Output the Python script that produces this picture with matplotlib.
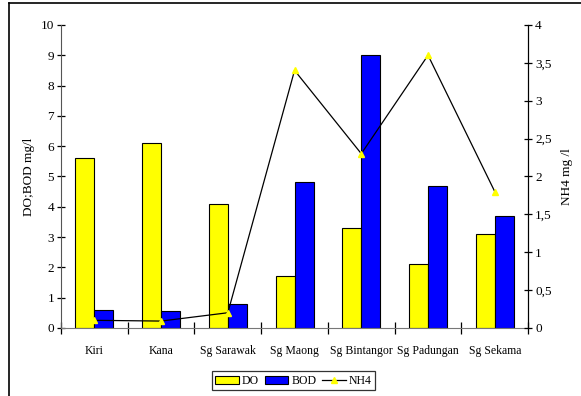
import matplotlib
matplotlib.use("Agg")
import matplotlib.pyplot as plt
import numpy as np
from matplotlib.lines import Line2D
from matplotlib.patches import Patch

plt.rcParams['font.family'] = ['Liberation Serif', 'DejaVu Serif']

sites = ["Kiri", "Kana", "Sg Sarawak", "Sg Maong", "Sg Bintangor", "Sg Padungan", "Sg Sekama"]
do_vals = [5.6, 6.1, 4.1, 1.7, 3.3, 2.1, 3.1]
bod_vals = [0.6, 0.55, 0.8, 4.8, 9.0, 4.7, 3.7]
nh4_vals = [0.1, 0.09, 0.2, 3.4, 2.3, 3.6, 1.8]

left_ticks = list(range(0, 11))
right_ticks = [0, 0.5, 1, 1.5, 2, 2.5, 3, 3.5, 4]
right_labels = ["0", "0,5", "1", "1,5", "2", "2,5", "3", "3,5", "4"]

fig = plt.figure(figsize=(5.81, 3.96), dpi=100)
ax = fig.add_axes([0.105, 0.172, 0.804, 0.765])
ax2 = ax.twinx()

x = np.arange(len(sites))
w = 0.285
ax.bar(x - w / 2, do_vals, w, color="#FFFF00", edgecolor="black", linewidth=0.8, zorder=2)
ax.bar(x + w / 2, bod_vals, w, color="#0000FF", edgecolor="black", linewidth=0.8, zorder=2)
ax.set_xlim(-0.5, len(sites) - 0.5)
ax.set_ylim(0, 10)
ax.set_yticks(left_ticks)
ax.set_xticks(np.arange(len(sites) + 1) - 0.5)
ax.set_xticklabels([])
ax.set_xticks(x, minor=True)
ax.set_xticklabels(sites, minor=True)
ax.tick_params(axis='x', which='minor', length=0, pad=12, labelsize=8.5)
ax.tick_params(axis='x', which='major', direction='inout', length=8, width=0.9)
ax.tick_params(axis='y', direction='inout', length=6, width=0.9, labelsize=9.5, pad=2)
ax.set_ylabel("DO;BOD mg/l", fontsize=9.5, labelpad=4)

ax2.plot(x, nh4_vals, color="black", linewidth=0.9, marker="^", markersize=5,
         markerfacecolor="#FFFF00", markeredgecolor="#FFFF00", zorder=3)
ax2.set_ylim(0, 4)
ax2.set_yticks(right_ticks)
ax2.set_yticklabels(right_labels)
ax2.tick_params(axis='y', direction='inout', length=6, width=0.9, labelsize=9.5, pad=2)
ax2.set_ylabel("NH4 mg /l", fontsize=9.5, labelpad=7)

for a in (ax, ax2):
    a.spines['top'].set_visible(False)
ax.spines['left'].set_color('#555555')
ax.spines['bottom'].set_color('#777777')
ax2.spines['left'].set_visible(False)
ax2.spines['bottom'].set_visible(False)
ax2.spines['right'].set_color('black')

handles = [Patch(facecolor="#FFFF00", edgecolor="black", linewidth=0.8),
           Patch(facecolor="#0000FF", edgecolor="black", linewidth=0.8),
           Line2D([0], [0], color="black", linewidth=0.9, marker="^", markersize=5,
                  markerfacecolor="#FFFF00", markeredgecolor="#FFFF00")]
leg = fig.legend(handles, ["DO", "BOD", "NH4"], loc="center", bbox_to_anchor=(0.505, 0.038),
                 ncol=3, fontsize=8.5, frameon=True, fancybox=False, edgecolor="black",
                 handlelength=2.0, handletextpad=0.25, columnspacing=0.5, borderpad=0.3,
                 handleheight=0.6)
leg.get_frame().set_linewidth(0.9)

# chart frame edges
fig.add_artist(Line2D([9 / 581, 9 / 581], [0, 1 - 3 / 396], color="black", linewidth=1.2,
                      transform=fig.transFigure))
fig.add_artist(Line2D([9 / 581, 1], [1 - 3 / 396, 1 - 3 / 396], color="black", linewidth=1.2,
                      transform=fig.transFigure))

fig.savefig("out.png", dpi=100)
